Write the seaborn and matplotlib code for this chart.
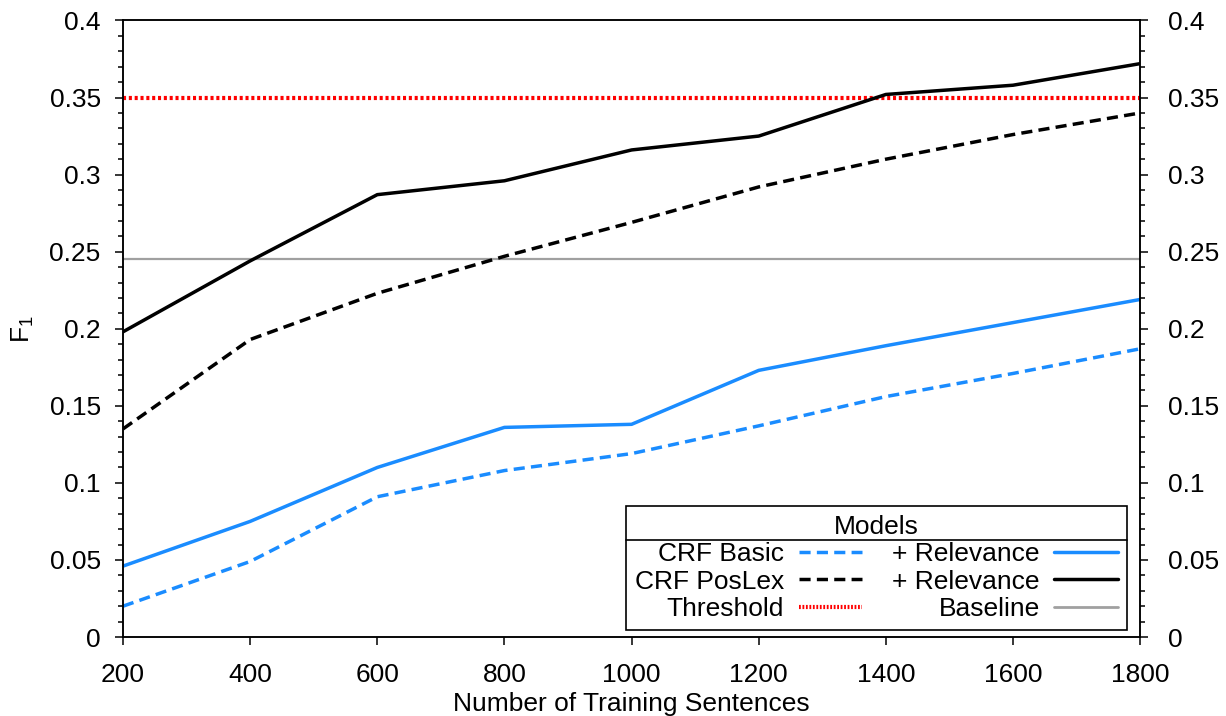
import pandas as pd
import seaborn as sns
import matplotlib.pyplot as plt
from matplotlib.lines import Line2D
from matplotlib.ticker import MultipleLocator, AutoMinorLocator, FuncFormatter

# values
sentences = [200, 400, 600, 800, 1000, 1200, 1400, 1600, 1800]
crf_basic = [0.020, 0.049, 0.091, 0.108, 0.119, 0.137, 0.156, 0.171, 0.187]
crf_basic_rel = [0.046, 0.075, 0.110, 0.136, 0.138, 0.173, 0.189, 0.204, 0.219]
crf_poslex = [0.135, 0.193, 0.223, 0.247, 0.269, 0.292, 0.310, 0.326, 0.340]
crf_poslex_rel = [0.198, 0.244, 0.287, 0.296, 0.316, 0.325, 0.352, 0.358, 0.372]
threshold = 0.35
baseline = 0.245

legend_labels = ['CRF Basic', 'CRF PosLex', 'Threshold',
                 '+ Relevance', '+ Relevance', 'Baseline']

df = pd.DataFrame({'sentences': sentences,
                   'basic': crf_basic, 'basic_rel': crf_basic_rel,
                   'poslex': crf_poslex, 'poslex_rel': crf_poslex_rel})

sns.set_style('ticks')
plt.rcParams['font.family'] = ['Liberation Sans', 'DejaVu Sans']
plt.rcParams['mathtext.default'] = 'regular'
plt.rcParams['lines.scale_dashes'] = False
for k in ['text.color', 'axes.labelcolor', 'xtick.color', 'ytick.color', 'axes.edgecolor']:
    plt.rcParams[k] = 'black'

FS = 19
blue = '#1a8cff'
dash = (0, (8, 4.5))
dots = (0, (2.2, 2.0))

fig, ax = plt.subplots(figsize=(12.26, 7.16), dpi=100)
fig.subplots_adjust(left=0.1003, right=0.930, top=0.9714, bottom=0.1103)

ax.axhline(baseline, color='#a0a0a0', linewidth=1.6)
ax.axhline(threshold, color='red', linewidth=3, linestyle=dots)

sns.lineplot(data=df, x='sentences', y='basic', ax=ax, color=blue, linewidth=2.5, linestyle=dash)
sns.lineplot(data=df, x='sentences', y='basic_rel', ax=ax, color=blue, linewidth=2.5)
sns.lineplot(data=df, x='sentences', y='poslex', ax=ax, color='black', linewidth=2.5, linestyle=dash)
sns.lineplot(data=df, x='sentences', y='poslex_rel', ax=ax, color='black', linewidth=2.5)

ax.set_xlim(200, 1800)
ax.set_ylim(0, 0.4)
ax.xaxis.set_major_locator(MultipleLocator(200))
ax.yaxis.set_major_locator(MultipleLocator(0.05))
ax.yaxis.set_minor_locator(AutoMinorLocator(5))
fmt = FuncFormatter(lambda v, p: '%g' % round(v, 3))
ax.yaxis.set_major_formatter(fmt)

for s in ax.spines.values():
    s.set_linewidth(1.1)
ax.tick_params(axis='x', which='major', length=6, width=1.1, labelsize=FS, pad=13)
ax.tick_params(axis='y', which='major', length=6, width=1.1, labelsize=FS, pad=10)
ax.tick_params(axis='y', which='minor', length=3.5, width=1.1)

ax2 = ax.twinx()
ax2.set_ylim(0, 0.4)
ax2.yaxis.set_major_locator(MultipleLocator(0.05))
ax2.yaxis.set_minor_locator(AutoMinorLocator(5))
ax2.yaxis.set_major_formatter(fmt)
ax2.tick_params(axis='y', which='major', length=6, width=1.1, labelsize=FS, pad=14)
ax2.tick_params(axis='y', which='minor', length=3.5, width=1.1)
for s in ax2.spines.values():
    s.set_linewidth(1.1)

ax.set_xlabel('Number of Training Sentences', fontsize=FS, labelpad=3)
ax.set_ylabel('$F_1$', fontsize=FS, labelpad=10)

handles = [
    Line2D([], [], color=blue, linewidth=2.5, linestyle=dash),
    Line2D([], [], color='black', linewidth=2.5, linestyle=dash),
    Line2D([], [], color='red', linewidth=3, linestyle=(0, (1.3, 1.2))),
    Line2D([], [], color=blue, linewidth=2.5),
    Line2D([], [], color='black', linewidth=2.5),
    Line2D([], [], color='#a0a0a0', linewidth=2.0),
]
leg = ax2.legend(handles, legend_labels, ncol=2, title='Models', loc='lower right',
                 bbox_to_anchor=(0.987, 0.0114), borderaxespad=0, markerfirst=False,
                 fancybox=False, edgecolor='black', framealpha=1, fontsize=FS,
                 title_fontsize=FS, handlelength=2.4, handletextpad=0.55,
                 columnspacing=1.15, borderpad=0.35, labelspacing=0.12)
leg.get_frame().set_linewidth(1.2)

# separator line under the legend title
fig.canvas.draw()
r = fig.canvas.get_renderer()
tb = leg.get_title().get_window_extent(r)
fb = leg.get_frame().get_window_extent(r)
W, H = fig.bbox.width, fig.bbox.height
yl = (tb.y0 - 1) / H
fig.add_artist(Line2D([fb.x0 / W, fb.x1 / W], [yl, yl], color='black',
                      linewidth=1.2, transform=fig.transFigure))

fig.savefig('out.png', dpi=100)
